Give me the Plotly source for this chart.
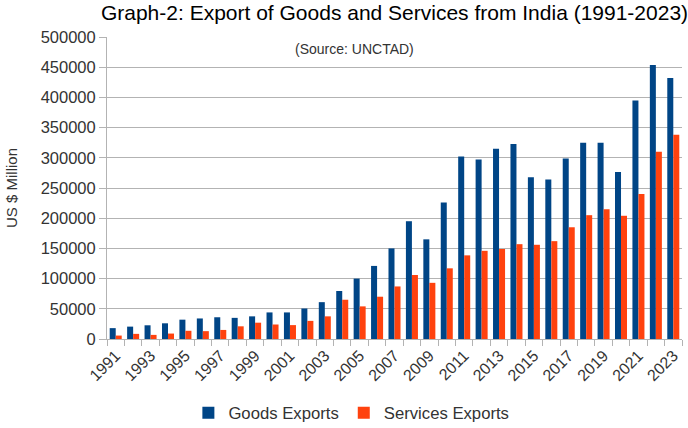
import plotly.graph_objects as go

years = list(range(1991, 2024))
goods = [18000, 20500, 22700, 26000, 32000, 34000, 36000, 35000, 37500, 44000,
         44000, 50500, 61000, 79500, 100000, 121000, 150000, 195000, 165000, 226000,
         302000, 297000, 315000, 323000, 268000, 264000, 299000, 325000, 325000, 276500,
         395000, 453500, 432000]
services = [5700, 8500, 6800, 9000, 13600, 13000, 15000, 21000, 27000, 24000,
            23000, 30000, 37500, 65000, 54000, 70000, 87000, 106000, 93000, 117000,
            138500, 146000, 149000, 157000, 156000, 162000, 185000, 205000, 215000, 204000,
            240000, 310000, 338000]
tick_years = list(range(1991, 2024, 2))
y_ticks = list(range(0, 500001, 50000))

fig = go.Figure()
fig.add_bar(x=years, y=goods, name="Goods Exports", marker_color="#004586", marker_line_width=0)
fig.add_bar(x=years, y=services, name="Services Exports", marker_color="#ff420e", marker_line_width=0)

fig.update_layout(
    width=688, height=428,
    margin=dict(l=107, r=6, t=37, b=89, autoexpand=False),
    paper_bgcolor="white", plot_bgcolor="white",
    font=dict(family="Liberation Sans, Arial, sans-serif", size=16, color="#333333"),
    barmode="group", bargap=0.31, bargroupgap=0,
    title=dict(text="Graph-2: Export of Goods and Services from India (1991-2023)",
               x=0.5, xanchor="center", xref="paper", y=1 - 13/428, yanchor="middle", yref="container",
               font=dict(size=21, color="black")),
    legend=dict(orientation="h", x=0.425, xanchor="center", y=-0.245, yanchor="middle",
                font=dict(size=16.7, color="#333333"), itemwidth=30, tracegroupgap=0),
    showlegend=True,
)

fig.update_xaxes(
    range=[1990.5, 2023.5], tickvals=tick_years, ticktext=[str(y) for y in tick_years],
    tickangle=-45, ticks="", showgrid=False, showline=True, linecolor="#b3b3b3", linewidth=1,
    minor=dict(ticks="outside", tick0=1990.5, dtick=1, ticklen=6, tickcolor="#b3b3b3", showgrid=False),
    tickfont=dict(size=16, color="#333333"), automargin=False,
)
fig.update_yaxes(
    range=[0, 500000], tickvals=y_ticks, ticktext=[str(v) for v in y_ticks],
    ticks="outside", ticklen=7, tickcolor="#b3b3b3",
    showgrid=True, gridcolor="#b3b3b3", gridwidth=1,
    showline=True, linecolor="#b3b3b3", linewidth=1, zeroline=False,
    title=dict(text="US $ Million", font=dict(size=15, color="#333333"), standoff=19),
    tickfont=dict(size=16.5, color="#333333"), automargin=False,
)

fig.add_annotation(text="(Source: UNCTAD)", x=(354 - 107) / 575, y=1 - 12/302, xref="paper", yref="paper",
                   showarrow=False, font=dict(size=14, color="#333333"), yanchor="middle")

fig.write_html("out.html")
